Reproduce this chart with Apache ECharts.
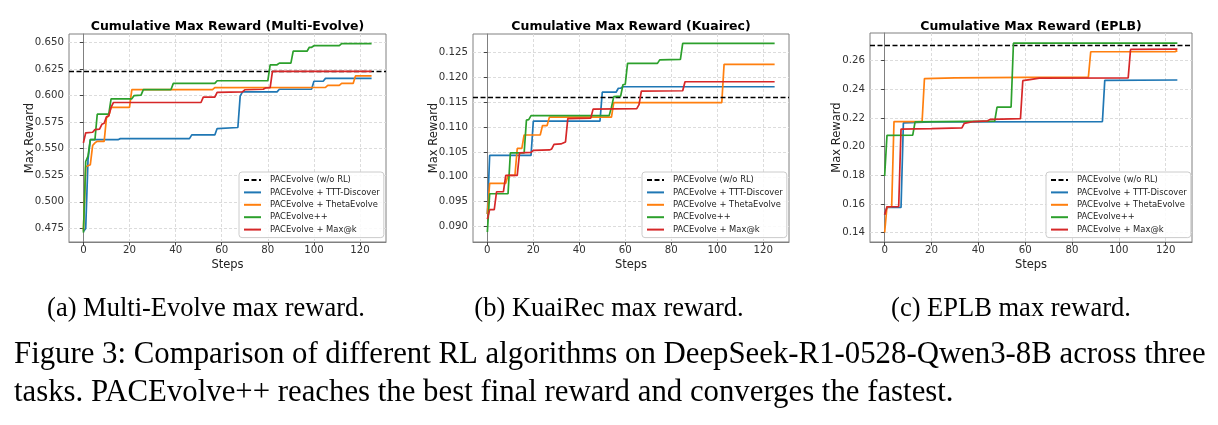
<!DOCTYPE html>
<html>
<head>
<meta charset="utf-8">
<script src="https://cdn.jsdelivr.net/npm/echarts@6/dist/echarts.min.js"></script>
<style>
  html, body { margin: 0; padding: 0; background: #fff; }
  #main { width: 1218px; height: 425px; }
</style>
</head>
<body>
<div id="main"></div>
<script>
// names shown in every legend
var seriesNames = ['PACEvolve (w/o RL)', 'PACEvolve + TTT-Discover', 'PACEvolve + ThetaEvolve', 'PACEvolve++', 'PACEvolve + Max@k']
var stepTicks = [0, 20, 40, 60, 80, 100, 120]

// (a) Multi-Evolve, [step, cumulative max reward]
var meBase = 0.6234
var meTTT = [[0, 0.472], [1, 0.475], [2, 0.540], [3, 0.5585], [15, 0.5585], [16, 0.5595], [46, 0.5595], [47, 0.5630], [57, 0.5630], [58, 0.5690], [67, 0.5700], [68, 0.5995], [69, 0.6035], [84, 0.6035], [85, 0.6060], [99, 0.6062], [100, 0.6135], [104, 0.6135], [105, 0.6162], [125, 0.6162]]
var meTheta = [[0, 0.473], [1, 0.533], [3, 0.535], [4, 0.553], [5, 0.5555], [6, 0.557], [9, 0.557], [10, 0.579], [11, 0.581], [12, 0.589], [20, 0.589], [21, 0.6056], [56, 0.6056], [57, 0.6075], [105, 0.6077], [106, 0.6096], [111, 0.6096], [112, 0.6115], [117, 0.6115], [118, 0.6185], [125, 0.6185]]
var mePP = [[0, 0.471], [1, 0.538], [2, 0.543], [3, 0.5585], [5, 0.5585], [6, 0.5825], [11, 0.5825], [12, 0.597], [21, 0.597], [22, 0.600], [25, 0.6005], [26, 0.6057], [38, 0.6057], [39, 0.6115], [57, 0.6115], [58, 0.614], [80, 0.614], [81, 0.629], [84, 0.629], [85, 0.6306], [90, 0.6306], [91, 0.6418], [97, 0.6418], [98, 0.6455], [99, 0.6455], [100, 0.6470], [111, 0.6470], [112, 0.6490], [125, 0.6490]]
var meMaxk = [[0, 0.5555], [1, 0.5650], [4, 0.5655], [5, 0.568], [7, 0.5685], [8, 0.573], [9, 0.574], [10, 0.580], [11, 0.581], [12, 0.589], [13, 0.5935], [51, 0.5935], [52, 0.5985], [57, 0.5985], [58, 0.6030], [69, 0.6035], [70, 0.6055], [78, 0.6060], [79, 0.6072], [81, 0.6075], [82, 0.6228], [125, 0.6228]]
var meTicks = [0.475, 0.500, 0.525, 0.550, 0.575, 0.600, 0.625, 0.650]

// (b) KuaiRec
var krBase = 0.1160
var krTTT = [[0, 0.0925], [1, 0.1043], [19, 0.1043], [20, 0.1112], [49, 0.1112], [50, 0.1170], [56, 0.1170], [57, 0.1178], [58, 0.1178], [59, 0.1181], [125, 0.1181]]
var krTheta = [[0, 0.0925], [1, 0.0987], [8, 0.0987], [9, 0.1003], [12, 0.1003], [13, 0.1057], [15, 0.1057], [16, 0.1084], [23, 0.1084], [24, 0.1103], [26, 0.1103], [27, 0.1120], [54, 0.1120], [55, 0.1149], [102, 0.1149], [103, 0.1226], [125, 0.1226]]
var krPP = [[0, 0.0889], [1, 0.0966], [9, 0.0966], [10, 0.1048], [16, 0.1048], [17, 0.1114], [18, 0.1115], [19, 0.1123], [53, 0.1123], [54, 0.1140], [55, 0.1161], [58, 0.1162], [59, 0.1185], [60, 0.1186], [61, 0.1228], [74, 0.1228], [75, 0.1235], [84, 0.1236], [85, 0.1268], [125, 0.1268]]
var krMaxk = [[0, 0.0915], [1, 0.0934], [3, 0.0934], [4, 0.0970], [7, 0.0970], [8, 0.1003], [13, 0.1003], [14, 0.1048], [19, 0.1049], [20, 0.1053], [27, 0.1054], [28, 0.1056], [29, 0.1065], [32, 0.1066], [33, 0.1068], [34, 0.1070], [35, 0.1117], [45, 0.1118], [46, 0.1136], [65, 0.1137], [66, 0.1145], [67, 0.1172], [85, 0.1173], [86, 0.1191], [125, 0.1191]]
var krTicks = [0.090, 0.095, 0.100, 0.105, 0.110, 0.115, 0.120, 0.125]

// (c) EPLB
var epBase = 0.2705
var epTTT = [[0, 0.1525], [1, 0.1575], [7, 0.1575], [8, 0.2165], [20, 0.2172], [93, 0.2175], [94, 0.2462], [125, 0.2465]]
var epTheta = [[0, 0.1400], [1, 0.1580], [3, 0.1580], [4, 0.2175], [16, 0.2175], [17, 0.2475], [30, 0.2480], [60, 0.2483], [87, 0.2485], [88, 0.2662], [124, 0.2663], [125, 0.2670]]
var epPP = [[0, 0.1795], [1, 0.2078], [12, 0.2080], [13, 0.2172], [47, 0.2178], [48, 0.2275], [54, 0.2276], [55, 0.2722], [125, 0.2722]]
var epMaxk = [[0, 0.1525], [1, 0.1580], [6, 0.1580], [7, 0.2122], [20, 0.2125], [33, 0.2130], [34, 0.2162], [38, 0.2175], [44, 0.2180], [45, 0.2190], [50, 0.2192], [58, 0.2195], [59, 0.2460], [62, 0.2468], [66, 0.2478], [104, 0.2480], [105, 0.2678], [125, 0.2680]]
var epTicks = [0.14, 0.16, 0.18, 0.20, 0.22, 0.24, 0.26]

var colors = ['#1f77b4', '#ff7f0e', '#2ca02c', '#d62728']
var font = 'DejaVu Sans'
var serif = 'Liberation Serif'

var panels = [
  { title: 'Cumulative Max Reward (Multi-Evolve)', base: meBase, lines: [meTTT, meTheta, mePP, meMaxk], ticks: meTicks, digits: 3,
    ymin: 0.4622, ymax: 0.6580, left: 69, width: 317, top: 34, height: 208, nameGap: 33, legendLeft: 239 },
  { title: 'Cumulative Max Reward (Kuairec)', base: krBase, lines: [krTTT, krTheta, krPP, krMaxk], ticks: krTicks, digits: 3,
    ymin: 0.0869, ymax: 0.1287, left: 473, width: 316, top: 34, height: 208, nameGap: 33, legendLeft: 642 },
  { title: 'Cumulative Max Reward (EPLB)', base: epBase, lines: [epTTT, epTheta, epPP, epMaxk], ticks: epTicks, digits: 2,
    ymin: 0.1334, ymax: 0.2793, left: 870, width: 322, top: 33, height: 209, nameGap: 27, legendLeft: 1046 }
]

var option = {
  animation: false,
  backgroundColor: '#ffffff',
  title: [],
  grid: [],
  xAxis: [],
  yAxis: [],
  legend: [],
  series: [],
  graphic: []
}

panels.forEach(function (p, i) {
  option.title.push({
    text: p.title,
    left: p.left + p.width / 2,
    top: 20,
    padding: 0,
    textAlign: 'center',
    textStyle: { fontFamily: font, fontSize: 12.5, fontWeight: 'bold', color: '#000' }
  })
  option.grid.push({
    left: p.left, top: p.top, width: p.width, height: p.height,
    show: true, borderColor: '#808080', borderWidth: 1, backgroundColor: 'transparent'
  })
  option.xAxis.push({
    type: 'value', gridIndex: i, min: -6.25, max: 131.25,
    name: 'Steps', nameLocation: 'middle', nameGap: 17, nameMoveOverlap: false,
    nameTextStyle: { fontFamily: font, fontSize: 11.5, color: '#222' },
    axisLine: { show: true, lineStyle: { color: '#808080' } },
    axisTick: { show: true, length: 3.5, customValues: stepTicks, lineStyle: { color: '#444' } },
    axisLabel: { customValues: stepTicks, margin: 3.5, fontFamily: font, fontSize: 10.2, color: '#333' },
    splitLine: { show: true, lineStyle: { color: '#dcdcdc', type: [3, 2] } }
  })
  option.yAxis.push({
    type: 'value', gridIndex: i, min: p.ymin, max: p.ymax,
    name: 'Max Reward', nameLocation: 'middle', nameGap: p.nameGap, nameMoveOverlap: false,
    nameTextStyle: { fontFamily: font, fontSize: 11.5, color: '#222' },
    axisLine: { show: true, lineStyle: { color: '#808080' } },
    axisTick: { show: true, length: 3.5, customValues: p.ticks, lineStyle: { color: '#444' } },
    axisLabel: {
      customValues: p.ticks, margin: 5, fontFamily: font, fontSize: 10.2, color: '#333',
      formatter: function (v) { return v.toFixed(p.digits) }
    },
    splitLine: { show: true, lineStyle: { color: '#dcdcdc', type: [3, 2] } }
  })
  option.legend.push({
    data: seriesNames,
    orient: 'vertical',
    left: p.legendLeft,
    top: 172,
    padding: [3, 4, 3, 4],
    itemWidth: 17,
    itemHeight: 10,
    itemGap: 2.4,
    // hide the marker dot, keep only the line
    itemStyle: { color: 'rgba(0,0,0,0)', borderColor: 'rgba(0,0,0,0)', borderWidth: 0 },
    backgroundColor: 'rgba(255,255,255,0.85)',
    borderColor: '#cccccc',
    borderWidth: 1,
    borderRadius: 3,
    textStyle: { fontFamily: font, fontSize: 8.4, color: '#222', lineHeight: 10, padding: [0, 0, 0, 4] }
  })
  // dashed reference line (no RL)
  option.series.push({
    name: seriesNames[0], type: 'line', xAxisIndex: i, yAxisIndex: i, data: [],
    symbol: 'none', color: '#000',
    lineStyle: { color: '#000', width: 1.3, type: [5, 2.5] },
    markLine: {
      silent: true, symbol: 'none', precision: 4, label: { show: false },
      lineStyle: { color: '#000', width: 1.3, type: [5, 2.5] },
      data: [{ yAxis: p.base }]
    }
  })
  p.lines.forEach(function (d, k) {
    option.series.push({
      name: seriesNames[k + 1], type: 'line', xAxisIndex: i, yAxisIndex: i,
      data: d, symbol: 'none', color: colors[k],
      lineStyle: { color: colors[k], width: 1.7 },
      z: 3 + k
    })
  })
})

// captions under the panels
var subCaps = ['(a) Multi-Evolve max reward.', '(b) KuaiRec max reward.', '(c) EPLB max reward.']
var subCapX = [206, 609, 1011]
subCaps.forEach(function (t, i) {
  option.graphic.push({
    type: 'text', x: subCapX[i], y: 309,
    style: { text: t, fontFamily: serif, fontSize: 26.5, fill: '#000', align: 'center', verticalAlign: 'middle' }
  })
})
option.graphic.push({
  type: 'text', x: 14, y: 355,
  style: { text: 'Figure 3: Comparison of different RL algorithms on DeepSeek-R1-0528-Qwen3-8B across three', fontFamily: serif, fontSize: 30.8, fill: '#000', verticalAlign: 'middle' }
})
option.graphic.push({
  type: 'text', x: 14, y: 393,
  style: { text: 'tasks. PACEvolve++ reaches the best final reward and converges the fastest.', fontFamily: serif, fontSize: 30.8, fill: '#000', verticalAlign: 'middle' }
})

var myChart = echarts.init(document.getElementById('main'), null, { renderer: 'canvas' })
myChart.setOption(option)
window.onresize = myChart.resize
</script>
</body>
</html>
